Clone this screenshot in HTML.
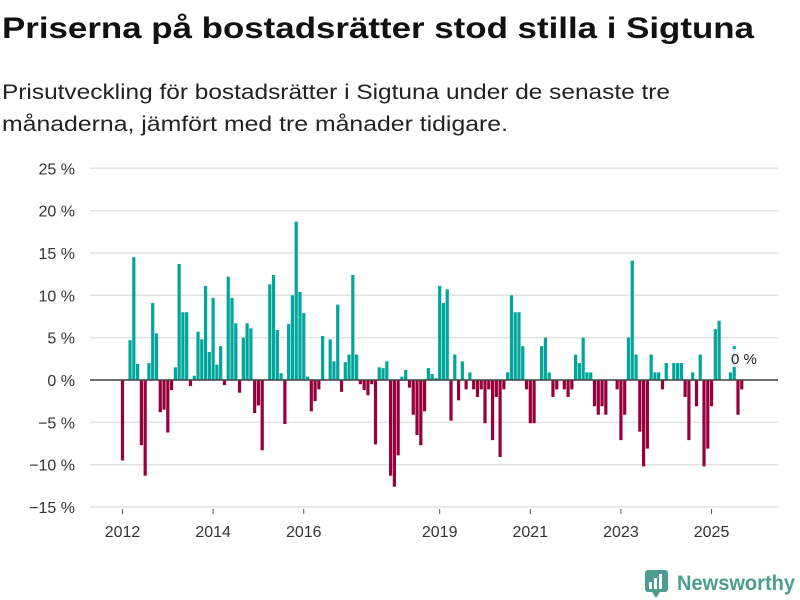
<!DOCTYPE html>
<html><head><meta charset="utf-8"><style>
html,body{margin:0;padding:0;background:#fff;}
svg{display:block;font-family:"Liberation Sans",sans-serif;}
</style></head><body>
<svg id="chart" width="800" height="600" viewBox="0 0 800 600" xmlns="http://www.w3.org/2000/svg">
<text x="2" y="38" font-size="30" font-weight="bold" fill="#111" textLength="752" lengthAdjust="spacingAndGlyphs">Priserna på bostadsrätter stod stilla i Sigtuna</text>
<text x="2" y="99" font-size="21" fill="#222" textLength="668" lengthAdjust="spacingAndGlyphs">Prisutveckling för bostadsrätter i Sigtuna under de senaste tre</text>
<text x="2" y="131" font-size="21" fill="#222" textLength="506" lengthAdjust="spacingAndGlyphs">månaderna, jämfört med tre månader tidigare.</text>
<g id="grid"></g>
<g id="yticks"></g>
<g id="xticks"></g>
<g id="bars"></g>
<line x1="90" x2="778" y1="380" y2="380" stroke="#444" stroke-width="1.6"/>
<rect x="729" y="349" width="30" height="18" fill="#fff" opacity="0.85"/>
<text x="731" y="364" font-size="15" fill="#222">0 %</text>
<g>
<rect x="645" y="570" width="23" height="22" rx="3" fill="#4a9d8f"/>
<rect x="649" y="582" width="3" height="7" fill="#fff"/>
<rect x="654" y="578" width="3" height="11" fill="#fff"/>
<rect x="659" y="574" width="3" height="15" fill="#fff"/>
<polygon points="652,592 660,592 656,598" fill="#4a9d8f"/>
<text x="677" y="590" font-size="21" font-weight="bold" fill="#4a9d8f" textLength="118" lengthAdjust="spacingAndGlyphs">Newsworthy</text>
</g>
</svg>
<script>
const values = [-9.5,0,4.7,14.5,1.9,-7.7,-11.3,2.0,9.1,5.5,-3.8,-3.5,
-6.2,-1.2,1.5,13.7,8.0,8.0,-0.7,0.5,5.7,4.8,11.1,3.3,
9.7,1.8,4.0,-0.6,12.2,9.7,6.7,-1.5,5.0,6.7,6.1,-3.9,
-3.0,-8.3,0,11.3,12.4,5.9,0.8,-5.2,6.6,10.0,18.7,10.4,
7.9,0.4,-3.7,-2.5,-1.1,5.2,0,4.8,2.2,8.9,-1.4,2.1,
3.0,12.4,3.0,-0.5,-1.2,-1.8,-0.5,-7.6,1.5,1.4,2.2,-11.3,
-12.6,-8.9,0.4,1.2,-0.9,-4.1,-6.5,-7.7,-3.7,1.4,0.7,0.2,
11.1,9.1,10.7,-4.8,3.0,-2.4,2.2,-1.1,0.9,-1.1,-2.0,-1.1,
-5.1,-1.1,-7.1,-2.0,-9.1,-1.1,0.9,10.0,8.0,8.0,4.0,-1.1,
-5.1,-5.1,0,4.0,5.0,0.9,-2.0,-1.1,0,-1.1,-2.0,-1.1,
3.0,2.0,5.0,0.9,0.9,-3.1,-4.1,-3.1,-4.1,0,0,-1.1,
-7.1,-4.1,5.0,14.1,3.0,-6.1,-10.2,-8.1,3.0,0.9,0.9,-1.1,
2.0,0,2.0,2.0,2.0,-2.0,-7.1,0.9,-3.1,3.0,-10.2,-8.1,
-3.1,6.0,7.0,0,0,0.9,4.0,-4.1,-1.1];
const yTicks = [-15,-10,-5,0,5,10,15,20,25];
const xTickYears = [2012,2014,2016,2019,2021,2023,2025];
const startYear = 2012;

const NS = "http://www.w3.org/2000/svg";
function y(v){ return 380 - v*8.47; }
function x(i){ return 122.5 + i*3.776; }
function mk(tag, attrs, parent){
  const e = document.createElementNS(NS, tag);
  for (const k in attrs) e.setAttribute(k, attrs[k]);
  parent.appendChild(e); return e;
}
const grid = document.getElementById('grid');
const yt = document.getElementById('yticks');
const xt = document.getElementById('xticks');
const bars = document.getElementById('bars');
yTicks.forEach(t => {
  const l = mk('line', {x1:90, x2:778, y1:y(t), y2:y(t), stroke:'#e2e2e2', 'stroke-width':1.5}, grid);
  
  
  const tx = mk('text', {x:75, y:y(t)+6, 'font-size':16, fill:'#333', 'text-anchor':'end'}, yt);
  tx.textContent = (t<0 ? '\u2212'+(-t) : t) + ' %';
  
  
});
xTickYears.forEach(yr => {
  const i = (yr-startYear)*12;
  const tk = mk('line', {x1:x(i), x2:x(i), y1:509, y2:514, stroke:'#555', 'stroke-width':1}, xt);
  
  
  const tx = mk('text', {x:x(i), y:537, 'font-size':16, fill:'#333', 'text-anchor':'middle'}, xt);
  tx.textContent = yr;
  
  
});
values.forEach((v,i) => {
  if (v === 0) return;
  const top = Math.min(y(v), y(0)), h = Math.abs(y(v)-y(0));
  const r = mk('rect', {x:x(i)-1.6, y:top, width:3.2, height:h, fill: v>0 ? '#00a59b' : '#98003b'}, bars);
  
  
});
</script>
</body></html>
